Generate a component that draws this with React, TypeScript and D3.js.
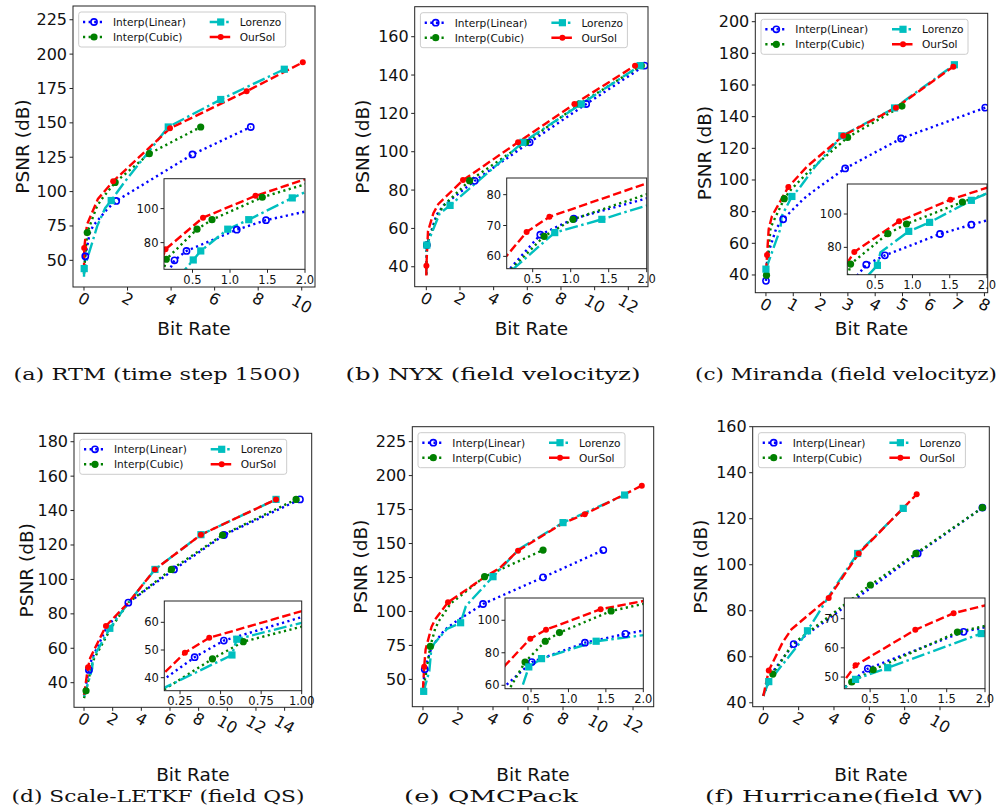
import React from 'react';
import * as d3 from 'd3';

type P = [number, number];

// ---------- data: (a) RTM ----------
const rtmLinear: P[] = [[0.0, 41], [0.06, 53], [0.26, 69.6], [0.42, 75.1], [1.09, 87.6], [1.48, 93.2], [4.98, 127], [7.66, 147]];
const rtmCubic: P[] = [[0.0, 40], [0.01, 44], [0.15, 70.2], [0.56, 87.9], [0.76, 93.5], [1.43, 106.7], [3.0, 127.6], [5.36, 147]];
const rtmLorenzo: P[] = [[0.0, 38], [0.01, 44], [0.51, 69.8], [0.61, 75.1], [0.97, 87.9], [1.25, 93.5], [1.83, 106.3], [3.87, 147], [6.28, 167], [9.2, 189]];
const rtmOurSol: P[] = [[0.0, 42], [0.01, 59], [0.14, 76.1], [0.64, 94.7], [1.34, 107.5], [3.95, 146], [7.47, 173], [10.05, 194]];
const rtmMainMarks = [[1, 5, 6, 7], [2, 5, 6, 7], [1, 5, 7, 8, 9], [1, 4, 5, 6, 7]];
const rtmInsetHidden: number[][] = [[], [], [], []];

// ---------- data: (b) NYX ----------
const nyxLinear: P[] = [[0.0, 36], [0.03, 51.3], [0.6, 67.0], [1.04, 72.2], [2.87, 84.8], [6.14, 104.9], [9.5, 124.9], [12.97, 144.9]];
const nyxCubic: P[] = [[0.0, 36], [0.03, 51.3], [0.65, 66.5], [1.03, 72.0], [2.57, 84.9], [5.9, 104.9], [9.1, 124.9], [12.77, 144.9]];
const nyxLorenzo: P[] = [[0.0, 36], [0.03, 51.3], [0.79, 67.7], [1.41, 72.0], [5.74, 104.9], [9.2, 124.9], [12.7, 144.9]];
const nyxOurSol: P[] = [[0.0, 35.5], [0.005, 40.5], [0.1, 58.5], [0.42, 67.9], [0.72, 72.8], [2.18, 85.2], [5.45, 104.9], [8.8, 124.9], [12.4, 144.9]];
const nyxMainMarks = [[1, 4, 5, 6, 7], [1, 4, 5, 6, 7], [1, 3, 4, 5, 6], [1, 5, 6, 7, 8]];
const nyxInsetHidden: number[][] = [[], [], [], [2]];

// ---------- data: (c) Miranda ----------
const mirLinear: P[] = [[0.0, 36.3], [0.05, 52], [0.38, 69.6], [0.63, 75.2], [1.37, 88], [1.79, 93.6], [2.9, 107.3], [4.95, 126.2], [8.03, 145.7]];
const mirCubic: P[] = [[0.02, 39.9], [0.17, 70], [0.67, 88.2], [0.92, 94], [1.67, 107.2], [2.99, 126.9], [4.98, 146.7]];
const mirLorenzo: P[] = [[0.0, 43.7], [0.53, 69.2], [0.57, 77], [0.95, 89.6], [1.23, 95], [1.79, 108.2], [2.78, 127.9], [4.71, 145.5], [6.9, 172.8]];
const mirOurSol: P[] = [[0.0, 42], [0.04, 52.6], [0.1, 69], [0.22, 77.2], [0.82, 95.6], [1.51, 108.6], [2.83, 128], [4.76, 145.7], [6.86, 171.6]];
const mirMainMarks = [[0, 3, 6, 7, 8], [0, 2, 5, 6], [0, 3, 6, 7, 8], [1, 4, 6, 7, 8]];
const mirInsetHidden: number[][] = [[1], [], [2], [2]];

// ---------- data: (d) Scale-LETKF ----------
const letLinear: P[] = [[0.0, 33], [0.34, 47.4], [0.52, 53.4], [1.6, 72.5], [3.09, 86.5], [6.28, 105.8], [9.77, 125.8], [15.07, 146.5]];
const letCubic: P[] = [[0.0, 31], [0.14, 35.3], [0.45, 46.8], [0.64, 53], [1.9, 72], [3.09, 86.5], [6.1, 105.8], [9.67, 125.8], [14.8, 146.5]];
const letLorenzo: P[] = [[0.0, 32], [0.57, 48.2], [0.6, 53.9], [1.8, 71.6], [3.1, 86.5], [4.95, 105.8], [8.16, 126], [13.4, 146.5]];
const letOurSol: P[] = [[0.0, 33], [0.28, 49], [0.43, 54.4], [1.53, 73], [3.1, 86.5], [4.95, 105.8], [8.16, 126], [13.4, 146.5]];
const letMainMarks = [[1, 4, 5, 6, 7], [1, 6, 7, 8], [3, 5, 6, 7], [1, 3, 5, 6, 7]];
const letInsetHidden: number[][] = [[], [1], [], []];

// ---------- data: (e) QMCPack ----------
const qmcLinear: P[] = [[0.0, 42], [0.1, 57.4], [0.51, 74.3], [1.22, 86.2], [1.76, 91.6], [3.43, 105.5], [6.86, 125.1], [10.3, 145.2]];
const qmcCubic: P[] = [[0.0, 41], [0.42, 74.3], [0.69, 87.1], [0.88, 92.4], [1.57, 105.7], [3.52, 125.6], [6.86, 145.2]];
const qmcLorenzo: P[] = [[0.0, 40], [0.04, 41.2], [0.36, 56], [0.47, 71.3], [0.64, 76.4], [1.37, 87.1], [2.15, 91.7], [2.45, 104], [4.0, 125.6], [5.5, 146], [8.0, 165.4], [11.52, 185.7]];
const qmcOurSol: P[] = [[0.0, 42.5], [0.07, 59.3], [0.15, 72], [0.49, 88.7], [0.7, 94.2], [1.43, 106.8], [3.55, 125.5], [4.38, 132], [5.43, 144.7], [8.0, 165], [9.24, 171.5], [12.5, 192.6]];
const qmcMainMarks = [[1, 5, 6, 7], [1, 5, 6], [1, 6, 8, 10, 11], [1, 5, 8, 10, 11]];
const qmcInsetHidden: number[][] = [[], [], [2], [2]];

// ---------- data: (f) Hurricane ----------
const hurLinear: P[] = [[0.0, 43], [0.47, 52.9], [1.72, 65.5], [8.74, 104.9], [12.4, 124.8]];
const hurCubic: P[] = [[0.0, 43], [0.26, 48.3], [0.54, 52.5], [1.64, 65.4], [6.06, 91.2], [8.64, 104.9], [12.4, 124.8]];
const hurLorenzo: P[] = [[0.0, 43], [0.31, 49.2], [0.73, 53.2], [1.95, 64.9], [2.5, 71.3], [3.83, 87.8], [5.34, 104.9], [7.92, 124.5]];
const hurOurSol: P[] = [[0.0, 43], [0.31, 54], [1.09, 66.2], [1.59, 71.9], [3.7, 85.6], [5.4, 104.9], [8.68, 130.6]];
const hurMainMarks = [[2, 3, 4], [2, 4, 5, 6], [1, 4, 6, 7], [1, 4, 5, 6]];
const hurInsetHidden: number[][] = [[], [], [], []];

// ---------- labels / ticks ----------
const seriesNames = ['Interp(Linear)', 'Interp(Cubic)', 'Lorenzo', 'OurSol'];
const captions = ['(a) RTM (time step 1500)', '(b) NYX (field velocityz)', '(c) Miranda (field velocityz)', '(d) Scale-LETKF (field QS)', '(e) QMCPack', '(f) Hurricane(field W)'];
const xLabel = 'Bit Rate';
const yLabel = 'PSNR (dB)';

const rtmXTicks = [0, 2, 4, 6, 8, 10];
const rtmYTicks = [50, 75, 100, 125, 150, 175, 200, 225];
const nyxXTicks = [0, 2, 4, 6, 8, 10, 12];
const nyxYTicks = [40, 60, 80, 100, 120, 140, 160];
const mirXTicks = [0, 1, 2, 3, 4, 5, 6, 7, 8];
const mirYTicks = [40, 60, 80, 100, 120, 140, 160, 180, 200];
const letXTicks = [0, 2, 4, 6, 8, 10, 12, 14];
const letYTicks = [40, 60, 80, 100, 120, 140, 160, 180];
const qmcXTicks = [0, 2, 4, 6, 8, 10, 12];
const qmcYTicks = [50, 75, 100, 125, 150, 175, 200, 225];
const hurXTicks = [0, 2, 4, 6, 8, 10];
const hurYTicks = [40, 60, 80, 100, 120, 140, 160];

const insetXTicks = [0.5, 1.0, 1.5, 2.0];
const letInsetXTicks = [0.25, 0.5, 0.75, 1.0];
const rtmInsetYTicks = [80, 100];
const nyxInsetYTicks = [60, 70, 80];
const mirInsetYTicks = [80, 100];
const letInsetYTicks = [40, 50, 60];
const qmcInsetYTicks = [60, 80, 100];
const hurInsetYTicks = [50, 60, 70];

// ---------- styles ----------
const STYLES = [
  { color: '#0000ff', dash: '2.2,3.4', marker: 'open' },
  { color: '#008000', dash: '2.2,3.4', marker: 'fill' },
  { color: '#00bfbf', dash: '13,3.5,2.5,3.5', marker: 'square' },
  { color: '#ff0000', dash: '8.5,3.5', marker: 'dot' },
];
const SANS = 'DejaVu Sans, sans-serif';

type Box = [number, number, number, number]; // left, right, top, bottom

interface PanelCfg {
  series: P[][]; marks: number[][]; hidden: number[][];
  box: Box; xDom: P; yDom: P; xTicks: number[]; yTicks: number[];
  ibox: Box; ixDom: P; iyDom: P; ixTicks: number[]; iyTicks: number[]; ixFmt: string;
  yLabelX: number; xLabelY: number; capX: number; capY: number; capW: number; caption: string;
}

const panels: PanelCfg[] = [
  { series: [rtmLinear, rtmCubic, rtmLorenzo, rtmOurSol], marks: rtmMainMarks, hidden: rtmInsetHidden,
    box: [73, 315, 6, 287], xDom: [-0.505, 10.61], yDom: [30.6, 235], xTicks: rtmXTicks, yTicks: rtmYTicks,
    ibox: [164, 305, 178.7, 269.3], ixDom: [0.12, 2.0], iyDom: [64.3, 117.6], ixTicks: insetXTicks, iyTicks: rtmInsetYTicks, ixFmt: '.1f',
    yLabelX: 22, xLabelY: 328, capX: 157, capY: 380, capW: 287, caption: captions[0] },
  { series: [nyxLinear, nyxCubic, nyxLorenzo, nyxOurSol], marks: nyxMainMarks, hidden: nyxInsetHidden,
    box: [414.7, 648, 6.7, 286.7], xDom: [-0.69, 13.17], yDom: [29.6, 175.65], xTicks: nyxXTicks, yTicks: nyxYTicks,
    ibox: [506.7, 646.7, 178, 268.7], ixDom: [0.158, 2.0], iyDom: [56, 85.4], ixTicks: insetXTicks, iyTicks: nyxInsetYTicks, ixFmt: '.1f',
    yLabelX: 363, xLabelY: 328, capX: 493, capY: 380, capW: 295, caption: captions[1] },
  { series: [mirLinear, mirCubic, mirLorenzo, mirOurSol], marks: mirMainMarks, hidden: mirInsetHidden,
    box: [755.3, 987.7, 13.3, 292.7], xDom: [-0.39, 8.12], yDom: [28.8, 205.3], xTicks: mirXTicks, yTicks: mirYTicks,
    ibox: [847.3, 987, 184, 274.7], ixDom: [0.126, 2.0], iyDom: [63.6, 118], ixTicks: insetXTicks, iyTicks: mirInsetYTicks, ixFmt: '.1f',
    yLabelX: 704, xLabelY: 328, capX: 846, capY: 380, capW: 302, caption: captions[2] },
  { series: [letLinear, letCubic, letLorenzo, letOurSol], marks: letMainMarks, hidden: letInsetHidden,
    box: [74, 311.7, 433.3, 707.3], xDom: [-0.7, 15.89], yDom: [25.7, 184.9], xTicks: letXTicks, yTicks: letYTicks,
    ibox: [164.3, 301.7, 601, 690.7], ixDom: [0.153, 1.0], iyDom: [35.3, 67.7], ixTicks: letInsetXTicks, iyTicks: letInsetYTicks, ixFmt: '.2f',
    yLabelX: 27, xLabelY: 774, capX: 158, capY: 802, capW: 293, caption: captions[3] },
  { series: [qmcLinear, qmcCubic, qmcLorenzo, qmcOurSol], marks: qmcMainMarks, hidden: qmcInsetHidden,
    box: [412.3, 653.7, 426.7, 706.7], xDom: [-0.61, 13.18], yDom: [29.9, 236], xTicks: qmcXTicks, yTicks: qmcYTicks,
    ibox: [505, 643.3, 598, 688.7], ixDom: [0.152, 2.0], iyDom: [57.9, 113.7], ixTicks: insetXTicks, iyTicks: qmcInsetYTicks, ixFmt: '.1f',
    yLabelX: 361, xLabelY: 774, capX: 491, capY: 802, capW: 174, caption: captions[4] },
  { series: [hurLinear, hurCubic, hurLorenzo, hurOurSol], marks: hurMainMarks, hidden: hurInsetHidden,
    box: [752.7, 989.3, 426.7, 706.7], xDom: [-0.6, 12.79], yDom: [38.3, 160], xTicks: hurXTicks, yTicks: hurYTicks,
    ibox: [844.3, 985, 598, 688.7], ixDom: [0.163, 2.0], iyDom: [46, 77.1], ixTicks: insetXTicks, iyTicks: hurInsetYTicks, ixFmt: '.1f',
    yLabelX: 701, xLabelY: 774, capX: 844, capY: 802, capW: 278, caption: captions[5] },
];

function Marker({ kind, x, y, color }: { kind: string; x: number; y: number; color: string }) {
  if (kind === 'open') return <circle cx={x} cy={y} r={3.1} fill="none" stroke={color} strokeWidth={1.6} />;
  if (kind === 'fill') return <circle cx={x} cy={y} r={3.6} fill={color} />;
  if (kind === 'square') return <rect x={x - 3.6} y={y - 3.6} width={7.2} height={7.2} fill={color} />;
  return <circle cx={x} cy={y} r={3} fill={color} />;
}

function Plot({ series, box, xDom, yDom, id, show }: { series: P[][]; box: Box; xDom: P; yDom: P; id: string; show: (si: number, pi: number) => boolean }) {
  const [L, R, T, B] = box;
  const x = d3.scaleLinear().domain(xDom).range([L, R]);
  const y = d3.scaleLinear().domain(yDom).range([B, T]);
  const line = d3.line<P>().x((d) => x(d[0])).y((d) => y(d[1]));
  return (
    <g>
      <defs>
        <clipPath id={id}><rect x={L} y={T} width={R - L} height={B - T} /></clipPath>
      </defs>
      <g clipPath={`url(#${id})`}>
        {series.map((s, i) => (
          <path key={'l' + i} d={line(s) || ''} fill="none" stroke={STYLES[i].color} strokeWidth={2.4} strokeDasharray={STYLES[i].dash} />
        ))}
        {series.map((s, i) => (
          <g key={'m' + i}>
            {s.map((d, j) => (show(i, j) ? <Marker key={j} kind={STYLES[i].marker} x={x(d[0])} y={y(d[1])} color={STYLES[i].color} /> : null))}
          </g>
        ))}
      </g>
    </g>
  );
}

function Panel({ cfg, idx }: { cfg: PanelCfg; idx: number }) {
  const [L, R, T, B] = cfg.box;
  const x = d3.scaleLinear().domain(cfg.xDom).range([L, R]);
  const y = d3.scaleLinear().domain(cfg.yDom).range([B, T]);
  const [iL, iR, iT, iB] = cfg.ibox;
  const ix = d3.scaleLinear().domain(cfg.ixDom).range([iL, iR]);
  const iy = d3.scaleLinear().domain(cfg.iyDom).range([iB, iT]);
  const fx = d3.format(cfg.ixFmt);
  const lgX = L + 5.7, lgY = T + 6;
  const ang = 30;
  return (
    <g>
      <rect x={L} y={T} width={R - L} height={B - T} fill="#fff" />
      <Plot series={cfg.series} box={cfg.box} xDom={cfg.xDom} yDom={cfg.yDom} id={'main' + idx} show={(si, pi) => cfg.marks[si].includes(pi)} />
      <rect x={L} y={T} width={R - L} height={B - T} fill="none" stroke="#222" strokeWidth={1} />
      {cfg.yTicks.map((t) => (
        <g key={'yt' + t}>
          <line x1={L - 3.5} x2={L} y1={y(t)} y2={y(t)} stroke="#222" strokeWidth={1} />
          <text x={L - 6} y={y(t)} textAnchor="end" dominantBaseline="central" fontFamily={SANS} fontSize={16} fill="#111">{t}</text>
        </g>
      ))}
      {cfg.xTicks.map((t) => {
        const s = String(t);
        const w = s.length * 0.636 * 16;
        const cy = B + 7 + w * 0.5;
        return (
          <g key={'xt' + t}>
            <line x1={x(t)} x2={x(t)} y1={B} y2={B + 3.5} stroke="#222" strokeWidth={1} />
            <text x={x(t)} y={cy} textAnchor="middle" dominantBaseline="central" fontFamily={SANS} fontSize={16} fill="#111" transform={`rotate(${ang},${x(t)},${cy})`}>{s}</text>
          </g>
        );
      })}
      <text x={cfg.yLabelX} y={(T + B) / 2} textAnchor="middle" dominantBaseline="central" fontFamily={SANS} fontSize={18.5} fill="#111" transform={`rotate(-90,${cfg.yLabelX},${(T + B) / 2})`}>{yLabel}</text>
      <text x={(L + R) / 2} y={cfg.xLabelY} textAnchor="middle" dominantBaseline="central" fontFamily={SANS} fontSize={18.5} fill="#111">{xLabel}</text>
      {/* legend */}
      <g>
        <rect x={lgX} y={lgY} width={207} height={35} rx={2.5} fill="#fff" fillOpacity={0.85} stroke="#cccccc" strokeWidth={1} />
        {seriesNames.map((name, i) => {
          const col = i < 2 ? 0 : 1;
          const row = i % 2;
          const hx = lgX + (col === 0 ? 4.3 : 131);
          const ry = lgY + (row === 0 ? 10 : 25);
          const tx = lgX + (col === 0 ? 34.3 : 161);
          const st = STYLES[i];
          return (
            <g key={'lg' + i}>
              <line x1={hx} x2={hx + 22} y1={ry} y2={ry} stroke={st.color} strokeWidth={2.4} strokeDasharray={st.dash} />
              <Marker kind={st.marker} x={hx + 11} y={ry} color={st.color} />
              <text x={tx} y={ry} dominantBaseline="central" fontFamily={SANS} fontSize={10.6} fill="#111">{name}</text>
            </g>
          );
        })}
      </g>
      {/* inset */}
      <rect x={iL} y={iT} width={iR - iL} height={iB - iT} fill="#fff" />
      <Plot series={cfg.series} box={cfg.ibox} xDom={cfg.ixDom} yDom={cfg.iyDom} id={'inset' + idx} show={(si, pi) => !cfg.hidden[si].includes(pi)} />
      <rect x={iL} y={iT} width={iR - iL} height={iB - iT} fill="none" stroke="#222" strokeWidth={1} />
      {cfg.iyTicks.map((t) => (
        <g key={'iyt' + t}>
          <line x1={iL - 3.5} x2={iL} y1={iy(t)} y2={iy(t)} stroke="#222" strokeWidth={1} />
          <text x={iL - 5.5} y={iy(t)} textAnchor="end" dominantBaseline="central" fontFamily={SANS} fontSize={11.5} fill="#111">{t}</text>
        </g>
      ))}
      {cfg.ixTicks.map((t) => (
        <g key={'ixt' + t}>
          <line x1={ix(t)} x2={ix(t)} y1={iB} y2={iB + 3.5} stroke="#222" strokeWidth={1} />
          <text x={ix(t)} y={iB + 14.5} textAnchor="middle" fontFamily={SANS} fontSize={11.5} fill="#111">{fx(t)}</text>
        </g>
      ))}
      <text x={cfg.capX} y={cfg.capY} textAnchor="middle" fontFamily="DejaVu Serif, serif" fontSize={17.5} fill="#111" textLength={cfg.capW} lengthAdjust="spacingAndGlyphs">{cfg.caption}</text>
    </g>
  );
}

export default function App() {
  return (
    <svg width={999} height={809} viewBox="0 0 999 809" style={{ position: 'absolute', left: 0, top: 0, background: '#fff' }}>
      <rect x={0} y={0} width={999} height={809} fill="#fff" />
      {panels.map((p, i) => <Panel key={i} cfg={p} idx={i} />)}
    </svg>
  );
}
